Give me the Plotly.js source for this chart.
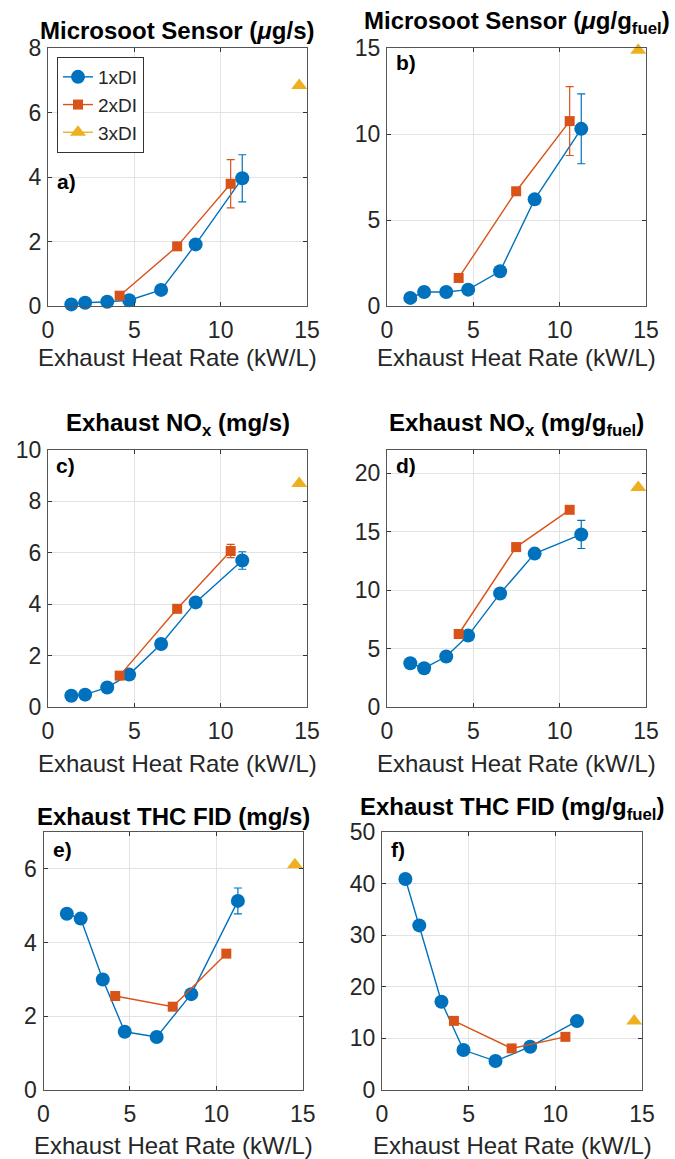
<!DOCTYPE html>
<html>
<head>
<meta charset="utf-8">
<script src="https://cdn.plot.ly/plotly-3.0.1.min.js"></script>
<style>html,body{margin:0;padding:0;background:#fff;}#chart{width:675px;height:1159px;}</style>
</head>
<body>
<div id="chart"></div>
<script>
// ---- data ----
var xDI1 = [1.35, 2.15, 3.43, 4.70, 6.55, 8.55, 11.25];
var xDI2 = [4.15, 7.48, 10.58];
var xDI3 = [14.55];

var sootRate1 = [0.05, 0.10, 0.13, 0.18, 0.50, 1.91, 3.96];
var sootRate1Err = [null, null, null, null, null, null, 0.73];
var sootRate2 = [0.32, 1.85, 3.79];
var sootRate2Err = [null, null, 0.75];
var sootRate3 = [6.84];

var sootFuel1 = [0.47, 0.81, 0.81, 0.95, 2.02, 6.20, 10.30];
var sootFuel1Err = [null, null, null, null, null, null, 2.03];
var sootFuel2 = [1.63, 6.67, 10.75];
var sootFuel2Err = [null, null, 2.00];
var sootFuel3 = [14.87];

var noxRate1 = [0.44, 0.48, 0.76, 1.26, 2.45, 4.07, 5.70];
var noxRate1Err = [null, null, null, null, null, null, 0.34];
var noxRate2 = [1.22, 3.82, 6.07];
var noxRate2Err = [null, null, 0.26];
var noxRate3 = [8.70];

var noxFuel1 = [3.75, 3.32, 4.32, 6.11, 9.72, 13.13, 14.77];
var noxFuel1Err = [null, null, null, null, null, null, 1.20];
var noxFuel2 = [6.25, 13.69, 16.88];
var noxFuel3 = [18.8];

var thcRate1 = [4.78, 4.65, 3.00, 1.58, 1.44, 2.60, 5.13];
var thcRate1Err = [null, null, null, null, null, null, 0.35];
var thcRate2 = [2.55, 2.26, 3.70];
var thcRate3 = [6.11];

var thcFuel1 = [40.9, 31.9, 17.1, 7.74, 5.61, 8.39, 13.35];
var thcFuel2 = [13.4, 8.06, 10.3];
var thcFuel3 = [13.35];

var seriesNames = ['1xDI', '2xDI', '3xDI'];
var xTicks = [0, 5, 10, 15];
var yTicksA = [0, 2, 4, 6, 8];
var yTicksB = [0, 5, 10, 15];
var yTicksC = [0, 2, 4, 6, 8, 10];
var yTicksD = [0, 5, 10, 15, 20];
var yTicksE = [0, 2, 4, 6];
var yTicksF = [0, 10, 20, 30, 40, 50];

var panelTitles = [
  '<b>Microsoot Sensor (<i>μ</i>g/s)</b>',
  '<b>Microsoot Sensor (<i>μ</i>g/g<sub>fuel</sub>)</b>',
  '<b>Exhaust NO<sub>x</sub> (mg/s)</b>',
  '<b>Exhaust NO<sub>x</sub> (mg/g<sub>fuel</sub>)</b>',
  '<b>Exhaust THC FID (mg/s)</b>',
  '<b>Exhaust THC FID (mg/g<sub>fuel</sub>)</b>'
];
var panelLetters = ['a)', 'b)', 'c)', 'd)', 'e)', 'f)'];
var xLabel = 'Exhaust Heat Rate (kW/L)';

// ---- styling / layout ----
var W = 675, H = 1159;
var BLUE = '#0072BD', ORANGE = '#D95319', YELLOW = '#EDB120';
var FONT = 'Liberation Sans, Arial, sans-serif';
function px(x) { return x / W; }
function py(y) { return 1 - y / H; }

// panel boxes in pixels: [left, right, top, bottom]
var boxes = [
  [48, 307, 48, 306],
  [387, 646, 48, 306],
  [48, 307, 450, 707],
  [387, 646, 450, 707],
  [43.5, 302.7, 832, 1090],
  [382, 642, 832, 1090]
];
var yRanges = [[0, 8], [0, 15], [0, 10], [0, 22], [0, 7], [0, 50]];
var yTickSets = [yTicksA, yTicksB, yTicksC, yTicksD, yTicksE, yTicksF];

var panels = [
  [sootRate1, sootRate1Err, sootRate2, sootRate2Err, sootRate3],
  [sootFuel1, sootFuel1Err, sootFuel2, sootFuel2Err, sootFuel3],
  [noxRate1, noxRate1Err, noxRate2, noxRate2Err, noxRate3],
  [noxFuel1, noxFuel1Err, noxFuel2, null, noxFuel3],
  [thcRate1, thcRate1Err, thcRate2, null, thcRate3],
  [thcFuel1, null, thcFuel2, null, thcFuel3]
];

var traces = [];
var layout = {
  width: W, height: H,
  margin: {l: 0, r: 0, t: 0, b: 0},
  paper_bgcolor: '#fff', plot_bgcolor: '#fff',
  font: {family: FONT, color: '#262626'},
  showlegend: true,
  legend: {
    x: px(57), y: py(57), xanchor: 'left', yanchor: 'top',
    bgcolor: '#fff', bordercolor: '#333', borderwidth: 1,
    font: {size: 19, family: FONT, color: '#262626'},
    tracegroupgap: 0, itemwidth: 30
  },
  annotations: []
};

panels.forEach(function (p, i) {
  var n = i + 1;
  var xa = 'x' + (n === 1 ? '' : n), ya = 'y' + (n === 1 ? '' : n);
  var b = boxes[i];
  var t1 = {
    x: xDI1, y: p[0], type: 'scatter', mode: 'lines+markers',
    name: seriesNames[0], xaxis: xa, yaxis: ya, showlegend: i === 0,
    line: {color: BLUE, width: 1.4},
    marker: {color: BLUE, size: 14, symbol: 'circle'},
    cliponaxis: false
  };
  if (p[1]) t1.error_y = {type: 'data', array: p[1], visible: true, color: BLUE, thickness: 1.2, width: 4};
  var t2 = {
    x: xDI2, y: p[2], type: 'scatter', mode: 'lines+markers',
    name: seriesNames[1], xaxis: xa, yaxis: ya, showlegend: i === 0,
    line: {color: ORANGE, width: 1.4},
    marker: {color: ORANGE, size: 10, symbol: 'square'},
    cliponaxis: false
  };
  if (p[3]) t2.error_y = {type: 'data', array: p[3], visible: true, color: ORANGE, thickness: 1.2, width: 4};
  var t3 = {
    x: xDI3, y: p[4], type: 'scatter', mode: 'lines+markers',
    name: seriesNames[2], xaxis: xa, yaxis: ya, showlegend: i === 0,
    line: {color: YELLOW, width: 1.4},
    marker: {color: YELLOW, size: 14, symbol: 'triangle-up'},
    cliponaxis: false
  };
  traces.push(t1, t2, t3);

  var axCommon = {
    showline: true, linecolor: '#555', linewidth: 1, mirror: 'ticks',
    ticks: 'inside', ticklen: 4, tickcolor: '#333', tickwidth: 1,
    showgrid: true, gridcolor: '#e3e3e3', gridwidth: 1,
    zeroline: false,
    tickfont: {size: 23, family: FONT, color: '#262626'},
    fixedrange: true
  };
  layout['xaxis' + (n === 1 ? '' : n)] = Object.assign({}, axCommon, {
    domain: [px(b[0]), px(b[1])], anchor: ya, range: [0, 15],
    tickmode: 'array', tickvals: xTicks, ticktext: xTicks.map(String),
    ticklabelstandoff: 3
  });
  layout['yaxis' + (n === 1 ? '' : n)] = Object.assign({}, axCommon, {
    domain: [py(b[3]), py(b[2])], anchor: xa, range: yRanges[i],
    tickmode: 'array', tickvals: yTickSets[i], ticktext: yTickSets[i].map(String),
    ticklabelstandoff: 1
  });

  var cx = (b[0] + b[1]) / 2;
  var titleY = [30, 22, 424, 424, 816, 808][i];
  layout.annotations.push({
    xref: 'paper', yref: 'paper', x: px(cx), y: py(titleY),
    xanchor: 'center', yanchor: 'middle', showarrow: false,
    text: panelTitles[i], font: {size: 24, family: FONT, color: '#000'}
  });
  var labY = [357, 357, 763, 763, 1145, 1145][i];
  layout.annotations.push({
    xref: 'paper', yref: 'paper', x: px(cx), y: py(labY),
    xanchor: 'center', yanchor: 'middle', showarrow: false,
    text: xLabel, font: {size: 24, family: FONT, color: '#262626'}
  });
  var letX = [55, 394, 54, 394, 51, 389][i];
  var letY = [182, 62, 465, 465, 849, 849][i];
  layout.annotations.push({
    xref: 'paper', yref: 'paper', x: px(letX), y: py(letY),
    xanchor: 'left', yanchor: 'middle', showarrow: false,
    text: '<b>' + panelLetters[i] + '</b>', font: {size: 21, family: FONT, color: '#000'}
  });
});

Plotly.newPlot('chart', traces, layout, {displayModeBar: false, staticPlot: true});
</script>
</body>
</html>
